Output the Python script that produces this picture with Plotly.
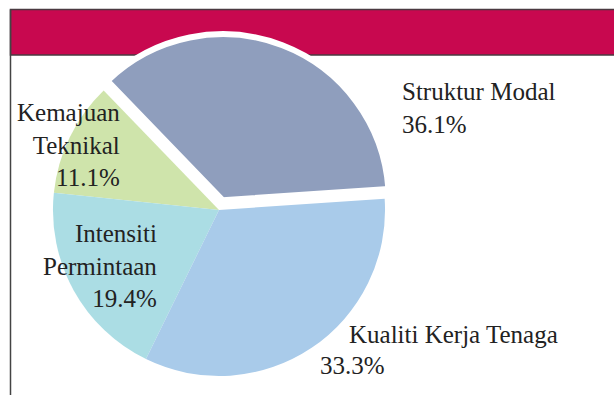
import plotly.graph_objects as go

# Sumber pertumbuhan produktiviti (peratus)
labels = ["Struktur Modal", "Kemajuan Teknikal", "Intensiti Permintaan", "Kualiti Kerja Tenaga"]
values = [36.1, 11.1, 19.4, 33.3]
colors = ["#8f9ebd", "#cfe4ab", "#abdde4", "#a9cbea"]
pull = [0.063, 0, 0, 0]

# text lines for each slice label (the percentage is appended from values)
label_lines = {
    "Struktur Modal": ["Struktur Modal"],
    "Kemajuan Teknikal": ["Kemajuan", "Teknikal"],
    "Intensiti Permintaan": ["Intensiti", "Permintaan"],
    "Kualiti Kerja Tenaga": ["Kualiti Kerja Tenaga"],
}

W, H = 614, 395


def fx(px):
    return px / W


def fy(py):
    return 1 - py / H


FONT = "Liberation Serif, Times New Roman, serif"
TXT = "#222222"

fig = go.Figure()

fig.add_trace(go.Pie(
    labels=labels,
    values=values,
    sort=False,
    direction="counterclockwise",
    rotation=-44,
    pull=pull,
    marker=dict(colors=colors,
                line=dict(color=["#ffffff", "rgba(0,0,0,0)", "rgba(0,0,0,0)", "rgba(0,0,0,0)"],
                          width=[6, 0, 0, 0])),
    textinfo="none",
    hoverinfo="skip",
    showlegend=False,
    domain=dict(x=[fx(42.5), fx(395.5)], y=[fy(386.5), fy(33.5)]),
))

# frame and crimson header band
shapes = [
    dict(type="rect", xref="paper", yref="paper", x0=fx(10.5), x1=fx(616), y0=fy(55), y1=fy(9.5),
         fillcolor="#c8084f", line=dict(color="#4a3a40", width=1.5), layer="below"),
    dict(type="line", xref="paper", yref="paper", x0=fx(10.5), x1=fx(10.5), y0=fy(9.5), y1=fy(396),
         line=dict(color="#444444", width=1.5), layer="below"),
]

annotations = []


def add_label(text, x, y, xanchor, align):
    annotations.append(dict(
        text=text, x=fx(x), y=fy(y), xref="paper", yref="paper",
        xanchor=xanchor, yanchor="middle", align=align, showarrow=False,
        font=dict(family=FONT, size=25, color=TXT),
    ))


pct = {lab: f"{v:.1f}%" for lab, v in zip(labels, values)}

add_label("<br>".join(label_lines["Struktur Modal"] + [pct["Struktur Modal"]]), 400, 108, "left", "left")
add_label("<br>".join(label_lines["Kemajuan Teknikal"] + [pct["Kemajuan Teknikal"]]), 122, 145, "right", "right")
add_label("<br>".join(label_lines["Intensiti Permintaan"] + [pct["Intensiti Permintaan"]]), 159, 266, "right", "right")
add_label(label_lines["Kualiti Kerja Tenaga"][0], 347, 334, "left", "left")
add_label(pct["Kualiti Kerja Tenaga"], 318, 365, "left", "left")

fig.update_layout(
    width=W, height=H,
    margin=dict(l=0, r=0, t=0, b=0),
    paper_bgcolor="white",
    plot_bgcolor="white",
    shapes=shapes,
    annotations=annotations,
)

fig.write_html("out.html")
